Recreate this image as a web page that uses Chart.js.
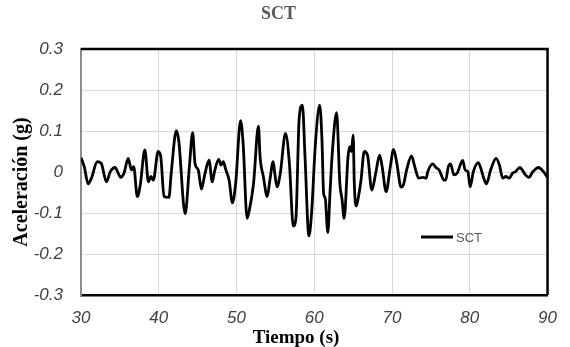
<!DOCTYPE html>
<html>
<head>
<meta charset="utf-8">
<script src="https://cdn.jsdelivr.net/npm/chart.js@4/dist/chart.umd.min.js"></script>
<style>
  body { margin: 0; background: #fff; }
  #wrap { width: 570px; height: 347px; }
</style>
</head>
<body>
<div id="wrap"><canvas id="myChart" width="570" height="347"></canvas></div>
<script>
// time (s) and acceleration (g)
const times = [30.0, 30.42, 30.92, 31.34, 32.09, 32.60, 33.27, 33.77, 34.40, 34.69,
  35.11, 35.53, 36.07, 36.49, 36.78, 37.24, 37.62, 38.21, 38.67, 39.00,
  39.30, 39.92, 40.26, 40.68, 41.31, 41.60, 42.27, 42.56, 43.40, 43.94,
  44.36, 44.66, 45.08, 45.49, 45.91, 46.46, 46.88, 47.17, 47.71, 48.01,
  48.30, 48.63, 49.05, 49.47, 49.89, 50.52, 50.85, 51.36, 51.65, 52.19,
  52.82, 53.03, 53.45, 53.95, 54.29, 54.71, 54.92, 55.21, 55.63, 56.30,
  56.80, 57.30, 57.64, 58.06, 58.48, 58.81, 59.31, 59.65, 60.15, 60.70,
  60.99, 61.20, 61.41, 61.74, 62.04, 62.33, 62.87, 63.29, 63.58, 63.84,
  64.34, 64.55, 64.78, 65.00, 65.15, 65.39, 65.72, 66.01, 66.43, 66.85,
  67.40, 67.90, 68.40, 68.73, 69.24, 69.78, 70.20, 70.62, 71.16, 71.46,
  71.88, 72.50, 72.92, 73.43, 73.97, 74.39, 74.60, 75.23, 75.64, 76.06,
  76.69, 76.90, 77.24, 77.53, 77.95, 78.37, 79.08, 79.41, 79.75, 80.04,
  80.46, 81.09, 81.42, 81.72, 82.14, 82.68, 83.39, 83.81, 84.23, 84.65,
  85.07, 85.49, 85.90, 86.45, 86.74, 87.16, 87.58, 88.13, 88.84, 89.47,
  89.97];

const accel = [0.035, 0.013, -0.029, -0.015, 0.025, 0.021, -0.024, 0.001, 0.011, 0.001,
  -0.013, -0.003, 0.033, 0.005, 0.013, -0.060, -0.032, 0.054, -0.024, -0.011,
  -0.020, 0.050, 0.037, -0.060, -0.062, -0.003, 0.101, 0.078, -0.102, 0.013,
  0.096, 0.021, 0.005, -0.042, -0.007, 0.029, -0.024, 0.001, 0.031, 0.017,
  0.025, 0.005, -0.020, -0.075, -0.028, 0.125, 0.070, -0.113, -0.093, -0.028,
  0.112, 0.037, -0.011, -0.060, -0.020, 0.025, -0.003, -0.036, -0.003, 0.094,
  0.021, -0.132, -0.113, 0.131, 0.163, 0.037, -0.156, -0.101, 0.070, 0.163,
  0.078, -0.052, -0.064, -0.148, -0.044, 0.050, 0.145, -0.028, -0.068, -0.113,
  0.037, 0.062, 0.050, 0.090, -0.030, -0.083, -0.056, -0.020, 0.050, 0.041,
  -0.044, -0.003, 0.041, 0.013, -0.048, 0.013, 0.055, 0.021, -0.037, -0.032,
  0.005, 0.039, 0.013, -0.015, -0.013, -0.015, 0.001, 0.020, 0.011, 0.005,
  -0.020, -0.020, 0.013, 0.020, -0.007, -0.003, 0.028, 0.005, 0.001, -0.036,
  0.001, 0.023, 0.009, -0.011, -0.029, 0.005, 0.033, 0.017, -0.015, -0.011,
  -0.015, -0.003, 0.001, 0.011, 0.005, -0.007, -0.013, 0.001, 0.011, 0.001,
  -0.013];

const xTicks = [30, 40, 50, 60, 70, 80, 90];
const yTicks = [-0.3, -0.2, -0.1, 0, 0.1, 0.2, 0.3];
const seriesName = 'SCT';
const xTitle = 'Tiempo (s)';
const yTitle = 'Aceleración (g)';

const tickFont = { family: 'Liberation Sans', style: 'italic', size: 17 };

// frame on top/right, axis titles and the little legend inside the plot
const extras = {
  id: 'extras',
  afterDraw(chart) {
    const { ctx, chartArea: a } = chart;
    ctx.save();
    ctx.strokeStyle = '#000';
    ctx.lineWidth = 2.5;
    ctx.beginPath();
    ctx.moveTo(a.left, a.top);
    ctx.lineTo(a.right, a.top);
    ctx.lineTo(a.right, a.bottom);
    ctx.stroke();

    ctx.fillStyle = '#000';
    ctx.textAlign = 'center';
    ctx.textBaseline = 'alphabetic';
    ctx.font = 'bold 19px "Liberation Serif"';
    ctx.fillText(xTitle, 296, 343);

    ctx.save();
    ctx.translate(27, 182);
    ctx.rotate(-Math.PI / 2);
    ctx.font = 'bold 20px "Liberation Serif"';
    ctx.fillText(yTitle, 0, 0);
    ctx.restore();

    ctx.lineWidth = 3;
    ctx.beginPath();
    ctx.moveTo(421, 237);
    ctx.lineTo(453, 237);
    ctx.stroke();
    ctx.fillStyle = '#595959';
    ctx.textAlign = 'left';
    ctx.textBaseline = 'middle';
    ctx.font = '13px "Liberation Sans"';
    ctx.fillText(chart.data.datasets[0].label, 456, 238);
    ctx.restore();
  }
};

const ctx = document.getElementById('myChart').getContext('2d');
const chart = new Chart(ctx, {
  type: 'line',
  data: {
    datasets: [{
      label: seriesName,
      data: times.map((t, i) => ({ x: t, y: accel[i] })),
      borderColor: '#000',
      borderWidth: 2.8,
      pointRadius: 0,
      cubicInterpolationMode: 'monotone',
      fill: false
    }]
  },
  options: {
    responsive: false,
    animation: false,
    layout: { padding: { left: 0, right: 13, top: 0, bottom: 0 } },
    plugins: {
      legend: { display: false },
      tooltip: { enabled: false },
      title: {
        display: true,
        text: seriesName,
        color: '#595959',
        font: { family: 'Liberation Serif', size: 18, weight: 'bold' },
        padding: { top: 4, bottom: 23.4 }
      }
    },
    scales: {
      x: {
        type: 'linear',
        min: 30,
        max: 90,
        afterBuildTicks: s => { s.ticks = xTicks.map(v => ({ value: v })); },
        afterFit: s => { s.height = 52; },
        grid: { color: '#d9d9d9', lineWidth: 1, drawTicks: false },
        border: { color: '#000', width: 2.5 },
        ticks: { font: tickFont, color: '#404040', padding: 13, maxRotation: 0, callback: v => String(v) }
      },
      y: {
        min: -0.3,
        max: 0.3,
        afterBuildTicks: s => { s.ticks = yTicks.map(v => ({ value: v })); },
        afterFit: s => { s.width = 81; },
        grid: { color: '#d9d9d9', lineWidth: 1, drawTicks: false },
        border: { color: '#8c8c8c', width: 2 },
        ticks: { font: tickFont, color: '#404040', padding: 18, callback: v => String(v) }
      }
    }
  },
  plugins: [extras]
});
</script>
</body>
</html>
